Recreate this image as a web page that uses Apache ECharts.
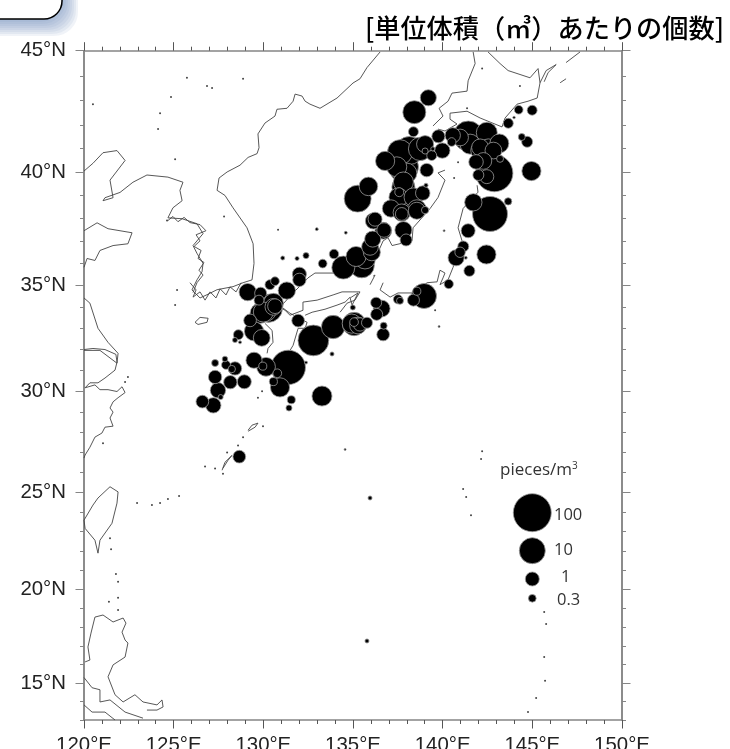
<!DOCTYPE html>
<html><head><meta charset="utf-8">
<style>html,body{margin:0;padding:0;background:#fff}#c{width:730px;height:749px}</style>
<script src="https://cdn.jsdelivr.net/npm/echarts@6/dist/echarts.min.js"></script>
</head><body><div id="c"></div>
<script>
// [lon, lat, pieces per m3]
const bubbles = [
[139.20,43.11,1.5],[138.42,42.52,5.6],[138.37,41.71,0.46],[139.76,41.52,0.83],[140.56,41.56,1.3],[141.43,41.53,22],
[142.46,41.67,3.8],[143.16,41.22,2.6],[143.66,42.06,0.46],[144.24,42.62,0.36],[144.99,42.60,0.46],[144.41,41.49,0.26],
[144.71,41.29,0.56],[144.95,40.05,2.7],[142.88,39.96,85],[142.46,39.81,1],[141.86,40.44,1.1],[142.55,40.99,3.2],
[139.98,40.92,1.3],[138.14,40.92,15],[137.62,40.85,8.3],[139.02,41.19,1.8],[136.79,40.48,2.7],[137.81,40.23,22],
[139.11,40.09,0.9],[135.86,39.39,2.4],[135.26,38.86,12],[137.81,39.36,5.6],[137.62,38.92,3.2],[137.58,39.14,0.38],
[138.89,39.10,1.1],[138.18,38.63,3.2],[137.12,38.43,1.9],[138.56,38.33,1.8],[139.02,38.36,0.28],[137.72,38.19,0.8],
[137.81,37.48,1.8],[137.96,37.04,0.68],[136.23,37.96,1],[136.73,37.48,1.1],[136.10,37.08,1.5],[135.17,36.30,3.2],
[136.05,36.49,1.8],[135.49,35.90,8.3],[134.46,35.80,5.6],[133.94,36.41,0.42],[133.31,35.98,0.36],[142.64,38.19,56],
[141.71,38.70,1.9],[143.65,38.74,0.28],[141.42,37.45,1],[141.15,36.75,0.56],[140.97,36.49,0.5],[140.75,36.24,1.5],
[142.44,36.39,2.7],[141.49,35.65,0.56],[140.34,35.05,0.4],[138.96,34.50,8.3],[138.37,34.31,0.68],[137.51,34.35,0.4],
[136.29,34.19,0.56],[136.60,33.92,1.7],[136.32,33.65,0.68],[143.2,40.57,0.26],[140.5,41.28,0.36],[139.39,40.71,0.46],
[139.07,39.44,0.15],[140.08,37.45,0.1],[134.6,37.36,0.12],[143.98,42.30,0.11],[141.29,36.24,0.12],[141.99,39.88,0.56],
[142.09,41.05,1.8],[139.02,40.9,0.22],[139.45,40.99,0.15],
[138.74,40.99,6],[138.0,39.96,3.2],[137.44,40.23,3.2],[137.81,39.58,3.2],[137.53,38.92,2.5],[138.37,38.92,2.5],
[137.81,38.47,3.2],[138.56,38.4,2.5],[137.72,38.25,1.9],[136.14,37.88,1.5],[136.69,37.45,1.7],[135.95,36.73,1.7],
[135.67,36.21,3.8],[142.09,40.92,2.5],[142.83,40.92,1.7],[142.27,40.48,1.7],[141.53,41.19,3.2],[140.97,41.47,1.7],
[129.13,34.68,1.9],[129.85,34.63,0.68],[129.76,34.31,0.46],[130.37,35.02,0.46],[130.65,35.18,0.36],[131.31,34.75,1.9],
[132.01,35.50,1],[132.01,35.24,0.88],[132.38,36.34,0.22],[131.88,36.21,0.15],[131.08,36.23,0.15],[132.98,37.52,0.12],
[130.56,34.16,3.2],[130.65,34.03,1.15],[130.09,33.84,5.6],[129.82,33.70,3.2],[129.26,33.37,0.78],[129.48,32.86,2.7],
[130.28,33.93,15],[130.56,34.0,1.7],[130,33.76,3.2],
[129.91,32.55,1.7],[128.61,32.70,0.46],[128.42,32.45,0.18],[128.70,32.34,0.12],[131.94,33.36,0.78],[132.79,32.43,25],
[133.89,33.06,6],[134.93,33.22,2.7],[135.06,33.2,6],[135.28,33.13,1.7],[135.39,33.18,0.88],[135.06,33.29,0.36],[135.78,33.26,0.56],[136.71,33.12,0.26],
[136.68,32.71,0.78],[134.99,33.97,0.18],[133.83,31.79,0.15],[132.38,31.38,0.12],[131.39,31.15,50],[129.48,31.49,1.5],
[130.15,31.18,2.5],[129.97,31.21,0.32],[130.78,30.87,0.36],[130.56,30.47,0.32],[130.93,30.19,2.7],[127.31,31.36,0.26],
[127.86,31.55,0.2],[127.92,31.27,0.38],[128.42,31.10,0.88],[128.24,31.07,0.28],[127.31,30.69,0.88],[128.16,30.44,0.88],
[128.94,30.46,1],[127.47,30.05,1.3],[127.62,29.72,0.18],[126.60,29.50,0.78],[127.21,29.32,1.3],[133.27,29.77,3.2],
[131.56,29.59,0.32],[131.43,29.19,0.22],[137.62,34.28,0.26],[138.56,34.72,0.32],[139.80,33.08,0.1],[128.66,26.79,0.78],
[135.95,24.71,0.15],[135.78,17.26,0.15],[134.56,27.15,0.1]
];
const russiaKoreaCoast = [[136.51,44.95],[135.78,44.33],[135.39,43.88],[135.0,43.71],[134.11,43.10],[133.16,42.68],[132.60,42.85],[132.33,42.97],[132.16,43.18],[131.77,43.26],[131.66,42.97],[131.32,42.68],[130.76,42.64],[130.65,42.36],[130.09,42.07],[129.70,41.62],[129.76,41.04],[129.65,40.79],[129.15,40.63],[128.70,40.30],[127.98,40.01],[127.53,39.75],[127.42,39.22],[127.86,39.0],[128.31,38.46],[129.09,37.58],[129.43,36.87],[129.48,35.99],[129.37,35.24],[128.87,35.11],[128.31,34.93],[127.42,34.79],[126.86,34.56],[126.47,34.41],[126.02,34.78],[126.30,35.24],[126.58,35.61],[126.64,35.99],[126.30,36.44],[126.08,36.79],[126.64,37.32],[126.30,37.76],[125.47,37.98],[124.68,38.02],[124.96,38.46],[125.47,38.77],[125.35,39.22],[125.52,39.57],[124.68,39.79],[123.51,39.88],[122.73,39.57],[122.01,39.13],[121.17,38.90],[121.06,38.77],[121.62,38.90],[121.45,39.66],[122.29,40.50],[121.84,40.92],[121.06,40.83],[120.50,40.38],[120.0,40.05]];
const koreaIslets = [[125.91,35.11],[126.25,34.78],[126.08,34.45],[126.47,34.69],[126.75,34.31],[127.03,34.69],[127.36,34.41],[127.59,34.83],[127.92,34.55],[128.14,34.92],[128.48,34.69],[128.76,35.11]];
const koreaWestJag = [[124.68,37.9],[124.96,38.08],[125.24,37.85],[125.58,38.04],[125.91,37.81],[126.47,37.72],[126.8,37.45],[126.25,37.27],[126.47,37.0],[126.14,36.75],[126.53,36.57],[126.36,36.21],[126.69,36.03],[126.41,35.68],[126.64,35.46],[126.3,35.11],[126.08,34.66]];
const shandongCoast = [[120,37.45],[120.73,37.80],[121.34,37.54],[122.68,37.36],[122.45,36.87],[121.62,36.79],[120.89,36.57],[120.61,36.12],[120.17,36.21],[120,35.81]];
const jiangsuCoast = [[120,34.41],[120.33,34.17],[120.78,33.0],[121.34,32.34],[121.9,31.82],[121.84,31.35],[120.89,31.96],[120,31.96]];
const yangtzeCoast = [[120,32.0],[120.5,32.05],[121.17,32.0],[121.78,31.77],[121.84,31.4],[121.73,31.02],[121.17,30.64],[120.78,30.41],[120.33,30.41],[120.06,30.17],[120.61,30.31],[120.89,30.08],[121.34,30.08],[121.84,29.99],[122.12,30.22],[122.29,29.94],[121.9,29.69],[121.62,29.49],[121.45,29.19],[121.62,28.99],[121.45,28.7],[121.62,28.3],[121.17,28.25],[121.0,27.96],[120.61,27.76],[120.33,27.26],[120.06,26.87],[120,26.72]];
const taiwanCoast = [[120,23.58],[120.5,24.35],[120.78,24.71],[121.45,25.28],[121.9,25.02],[121.84,24.45],[121.56,23.42],[120.89,22.55],[120.78,21.88],[120.61,22.55],[120.06,23.16],[120,23.58]];
const luzonCoast = [[120.06,16.14],[120.33,16.24],[120.22,16.94],[120.39,17.68],[120.61,18.53],[121.06,18.64],[121.62,18.27],[122.18,18.48],[122.34,18.21],[122.12,17.73],[122.29,17.31],[122.45,17.15],[122.29,16.40],[121.62,15.98],[121.34,15.34],[121.73,14.37],[122.18,13.98],[122.84,14.37],[123.29,13.98],[124.07,13.82],[124.35,14.09],[124.41,13.71],[124.07,13.54],[123.51,13.54]];
const luzonSouthA = [[120,15.3],[120.45,14.75],[120.89,14.64],[120.89,13.98],[121.45,14.09],[122.29,13.43],[123.29,13.1]];
const luzonSouthB = [[120,13.82],[120.45,13.43],[121.17,13.43],[121.73,13.0]];
const chejuCoast = [[126.19,33.28],[126.47,33.51],[126.92,33.47],[126.86,33.28],[126.36,33.18],[126.19,33.28]];
const hokkaidoWest = [[141.70,44.95],[141.81,44.49],[141.42,43.80],[141.36,43.38],[140.52,43.30],[140.30,42.97],[139.80,42.68],[140.02,42.36],[139.46,41.95]];
const hokkaidoEast = [[142.53,44.95],[143.20,44.49],[143.65,44.21],[144.87,43.92],[145.32,44.29],[145.43,43.72],[145.27,43.10],[144.76,42.97],[144.15,42.85],[143.48,42.28],[143.31,41.91],[142.09,42.28],[141.36,42.56],[140.41,42.48],[140.41,42.23],[140.80,42.03],[140.13,41.74],[139.74,41.82]];
const kurilA = [[145.43,43.72],[145.77,44.21],[146.33,44.45],[145.88,44.13],[145.66,43.76]];
const kurilB = [[146.88,44.53],[147.66,44.95]];
const kurilC = [[146.55,43.72],[146.88,43.88]];
const honshuWest = [[140.13,40.09],[139.74,39.97],[140.13,39.66],[139.74,38.91],[139.30,38.43],[138.35,37.58],[138.29,37.0],[137.18,36.79],[136.95,37.14],[136.68,37.0],[136.12,35.99],[135.23,35.55],[133.89,35.55],[132.88,35.55],[132.49,35.33],[131.66,34.64],[130.93,33.98],[131.21,33.84],[131.49,33.61],[132.21,33.84],[132.21,34.22],[133.0,34.31],[133.89,34.55],[134.39,34.69],[134.95,34.69],[135.39,34.69],[135.11,34.31],[134.67,34.17],[134.28,33.75]];
const honshuEast = [[136.68,35.11],[136.51,34.78],[137.07,34.45],[137.51,34.64],[138.46,34.64],[139.13,35.11],[139.69,35.15],[139.85,35.68],[140.13,35.55],[140.02,35.33],[139.85,35.02],[140.30,35.24],[140.58,35.81],[141.08,37.0],[140.86,37.58],[141.14,38.43],[141.97,39.14],[141.92,39.44]];
const notoSpit = [[135.95,35.02],[136.23,35.46],[136.12,35.41]];
const kyushuEast = [[131.04,33.98],[131.49,33.70],[132.44,33.28],[132.33,33.0],[131.94,33.0],[131.66,32.2],[131.49,31.96]];
const kyushuWest = [[130.09,33.23],[130.49,32.9],[130.54,32.34],[130.26,32.05],[130.21,31.82]];
const shikokuCoast = [[132.33,33.61],[132.72,33.75],[133.44,33.89],[134.11,34.08],[134.56,34.22],[134.84,34.45]];
const awajiCoast = [[134.84,34.41],[135.28,34.64],[135.39,34.55],[134.95,34.08],[134.84,34.41]];
const okinawaCoast = [[127.70,26.11],[127.86,26.51],[128.25,26.85],[128.03,26.61],[127.75,26.21]];
const amamiCoast = [[129.15,28.1],[129.37,28.35],[129.70,28.45],[129.54,28.25],[129.15,28.05]];
const islets = [[125.74,43.92],[126.86,43.59],[127.14,43.51],[128.87,43.88],[124.85,43.14],[124.24,42.48],[124.13,41.82],[125.08,40.55],[120.5,42.85],[127.81,38.08],[130.82,37.49],[132.99,37.54],[124.63,37.9],[125.19,34.78],[125.08,34.08],[121.45,22.65],[121.51,22.08],[121.78,20.79],[121.9,20.39],[121.9,19.55],[121.39,19.34],[121.9,18.9],[142.2,27.06],[142.14,26.67],[141.14,25.17],[141.31,24.76],[141.58,23.83],[145.66,18.8],[145.77,18.16],[145.66,16.4],[145.71,15.12],[145.21,14.2],[144.76,13.44],[144.31,43.59],[142.2,44.29],[141.36,42.68],[140.86,40.42],[140.64,39.75],[139.58,33.84],[122.45,30.69],[122.29,30.45],[121.06,27.46],[129.93,30.0],[129.7,29.69],[127.98,27.0],[128.59,27.35],[127.75,25.94],[127.31,26.2],[124.68,24.66],[122.96,24.45],[123.79,24.35],[124.24,24.45],[125.3,24.81],[126.75,26.3],[129.98,28.3],[128.87,27.75]];
const coastlines = [russiaKoreaCoast,koreaIslets,koreaWestJag,shandongCoast,jiangsuCoast,yangtzeCoast,taiwanCoast,luzonCoast,luzonSouthA,luzonSouthB,chejuCoast,hokkaidoWest,hokkaidoEast,kurilA,kurilB,kurilC,honshuWest,honshuEast,notoSpit,kyushuEast,kyushuWest,shikokuCoast,awajiCoast,okinawaCoast,amamiCoast];
const latMajor = [15,20,25,30,35,40,45];
const latMinor = [13,14,16,17,18,19,21,22,23,24,26,27,28,29,31,32,33,34,36,37,38,39,41,42,43,44];
const legendValues = [100,10,1,0.3];
const legendLabels = ['100','10','1','0.3'];
const titleText = '[単位体積（㎥）あたりの個数]';

const merc = lat => Math.log(Math.tan(Math.PI/4 + lat*Math.PI/360));
const invMerc = m => (2*Math.atan(Math.exp(m)) - Math.PI/2)*180/Math.PI;
const sizeOf = v => 14 + 12*Math.log10(v);
const AX = '#858585';
const yMin = merc(13), yMax = merc(45);
const yBase = {type:'value',min:yMin,max:yMax,splitLine:{show:false},
  axisLine:{show:true,onZero:false,lineStyle:{color:AX,width:1.5}}};
const yMajor = (pos,label)=>Object.assign({},yBase,{position:pos,
  axisTick:{show:true,length:8.5,lineStyle:{color:AX,width:1},customValues:latMajor.map(merc)},
  axisLabel:label?{show:true,customValues:latMajor.map(merc),margin:18,fontFamily:'Liberation Sans',fontSize:20.4,color:'#222',
    formatter:v=>Math.round(invMerc(v))+'°N'}:{show:false}});
const yMinor = pos=>Object.assign({},yBase,{position:pos,
  axisTick:{show:true,length:4,lineStyle:{color:AX,width:1},customValues:latMinor.map(merc)},axisLabel:{show:false}});
const xBase = {type:'value',min:120,max:150,interval:5,splitLine:{show:false},
  axisLine:{show:true,onZero:false,lineStyle:{color:AX,width:1.5}},
  axisTick:{show:true,length:8.5,lineStyle:{color:'#555',width:1}},
  minorTick:{show:true,splitNumber:5,length:4,lineStyle:{color:'#555',width:1}}};

const series = coastlines.map(c=>({type:'line',xAxisIndex:0,yAxisIndex:0,showSymbol:false,silent:true,animation:false,z:2,
  lineStyle:{color:'#444',width:0.9},data:c.map(p=>[p[0],merc(p[1])])}));
series.push({type:'scatter',xAxisIndex:0,yAxisIndex:0,silent:true,animation:false,z:2,symbolSize:2,
  itemStyle:{color:'#444',opacity:1},data:islets.map(p=>[p[0],merc(p[1])])});
series.push({type:'scatter',xAxisIndex:0,yAxisIndex:0,silent:true,animation:false,z:3,
  symbolSize:d=>Math.max(sizeOf(d[2]),2),itemStyle:{color:'#000',opacity:1,borderColor:'#9a9a9a',borderWidth:0.8},
  data:bubbles.slice().sort((a,b)=>b[2]-a[2]).map(p=>[p[0],merc(p[1]),p[2]])});

const legendCy = [512.7,550.7,579,598.3];
const legendTx = [554,554,561,557];
const legendTy = [515,550,577,600];
const graphic = [];
for(let k=0;k<9;k++){
  graphic.push({type:'rect',shape:{x:-30,y:-30,width:108-2*k,height:66-2*k,r:24},z:1,silent:true,
    style:{fill:'rgba(120,150,190,0.11)'}});
}
graphic.push(
 {type:'rect',shape:{x:-30,y:-30,width:92,height:49,r:18},z:2,style:{fill:'#fff',stroke:'#000',lineWidth:1.5}},
 {type:'text',x:724,y:28,z:10,style:{text:titleText,fill:'#000',align:'right',verticalAlign:'middle',font:'500 26.2px "Noto Sans CJK JP"'}},
 {type:'text',x:500,y:470,z:10,style:{text:'pieces/m{s|3}',rich:{s:{fontSize:10,verticalAlign:'top',lineHeight:18,fill:'#333',fontFamily:'Open Sans'}},fill:'#333',align:'left',verticalAlign:'middle',font:'17px "Open Sans"'}}
);
legendValues.forEach((v,i)=>{
  graphic.push({type:'circle',shape:{cx:532.3,cy:legendCy[i],r:sizeOf(v)/2},z:10,style:{fill:'#000',stroke:'#999',lineWidth:0.8}});
  graphic.push({type:'text',x:legendTx[i],y:legendTy[i],z:10,style:{text:legendLabels[i],fill:'#333',align:'left',verticalAlign:'middle',font:'16.5px "Open Sans"'}});
});

const chart = echarts.init(document.getElementById('c'),null,{renderer:'canvas'});
chart.setOption({animation:false,backgroundColor:'#fff',
  grid:{left:84,top:50.7,width:538,height:669.3,outerBoundsMode:'none'},
  xAxis:[Object.assign({},xBase,{position:'bottom',axisLabel:{show:true,margin:15,fontFamily:'Liberation Sans',fontSize:20.4,color:'#222',formatter:v=>v+'°E'}}),
         Object.assign({},xBase,{position:'top',axisLabel:{show:false}})],
  yAxis:[yMajor('left',true),yMinor('left'),yMajor('right',false),yMinor('right')],
  series,graphic});
</script></body></html>
